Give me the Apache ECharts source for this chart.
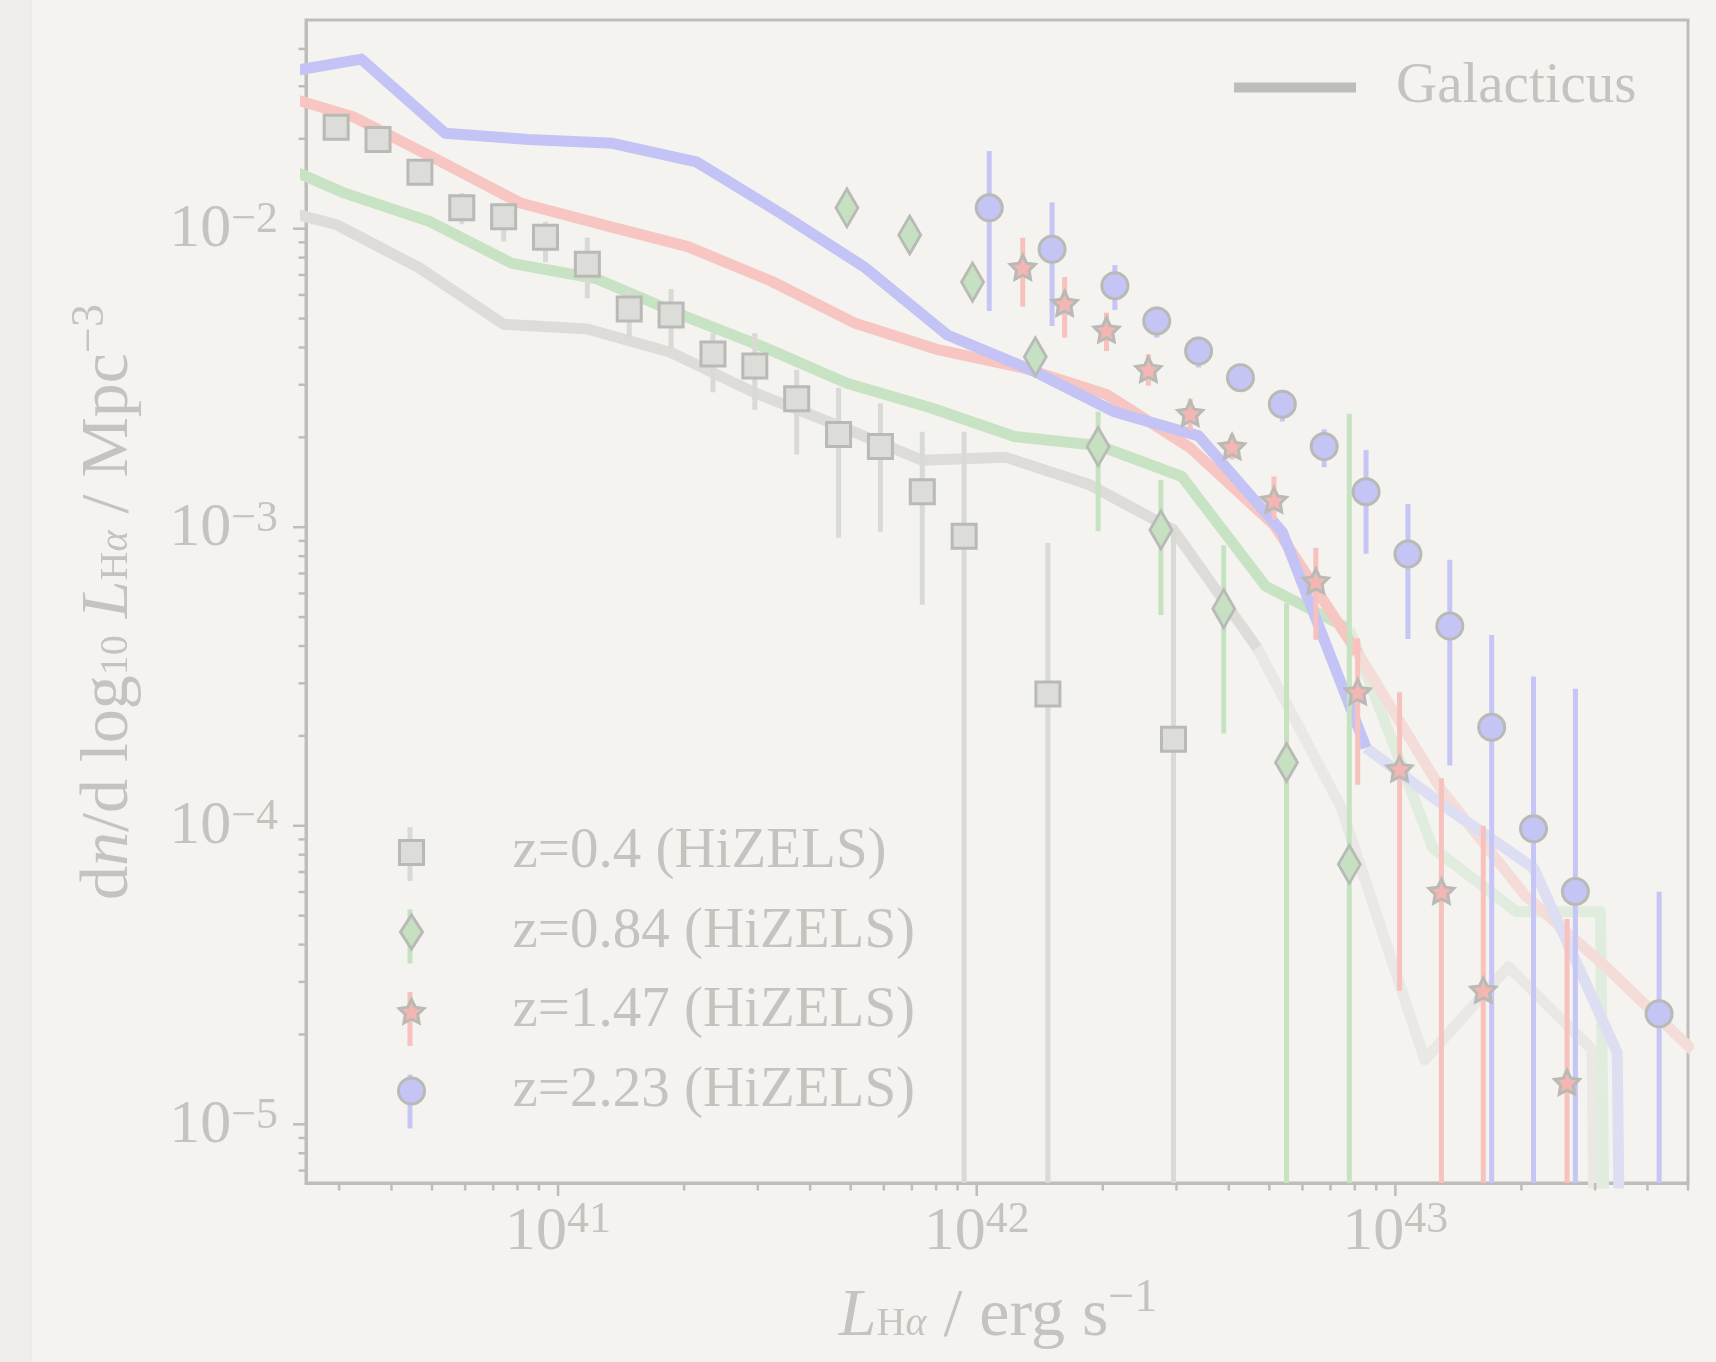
<!DOCTYPE html>
<html>
<head>
<meta charset="utf-8">
<script src="https://cdn.jsdelivr.net/npm/echarts@6/dist/echarts.min.js"></script>
<style>
html,body{margin:0;padding:0;background:#f4f3ef;}
#chart{width:1716px;height:1362px;}
</style>
</head>
<body>
<div id="chart"></div>
<script>
// ---------------- DATA (log10 values) ----------------
// null in a lower-error array = error bar reaching zero density
// null in a model array = model density of zero (line drops off the axis)

// HiZELS z=0.4 (grey squares)
const z04_logL   = [40.47,40.57,40.67,40.77,40.87,40.97,41.07,41.17,41.27,41.37,41.47,41.57,41.67,41.77,41.87,41.97,42.17,42.47];
const z04_logPhi = [-1.660,-1.701,-1.811,-1.930,-1.960,-2.029,-2.119,-2.269,-2.289,-2.420,-2.460,-2.570,-2.689,-2.730,-2.881,-3.030,-3.559,-3.710];
const z04_hi     = [-1.645,-1.685,-1.795,-1.881,-1.944,-1.977,-2.030,-2.205,-2.202,-2.350,-2.350,-2.473,-2.534,-2.585,-2.680,-2.680,-3.053,-3.003];
const z04_lo     = [-1.675,-1.717,-1.827,-1.985,-2.043,-2.112,-2.233,-2.367,-2.404,-2.548,-2.607,-2.756,-3.035,-3.015,-3.260,null,null,null];

// HiZELS z=0.84 (green diamonds)
const z084_logL   = [41.69,41.84,41.99,42.14,42.29,42.44,42.59,42.74,42.89];
const z084_logPhi = [-1.930,-2.021,-2.179,-2.429,-2.730,-3.009,-3.273,-3.788,-4.129];
const z084_hi     = [-1.900,-1.990,-2.150,-2.400,-2.613,-2.842,-3.060,-3.255,-2.620];
const z084_lo     = [-1.960,-2.050,-2.210,-2.460,-3.013,-3.294,-3.691,null,null];

// HiZELS z=1.47 (red stars)
const z147_logL   = [42.11,42.21,42.31,42.41,42.51,42.61,42.71,42.81,42.91,43.01,43.11,43.21,43.41];
const z147_logPhi = [-2.129,-2.250,-2.339,-2.471,-2.618,-2.730,-2.909,-3.180,-3.551,-3.809,-4.219,-4.550,-4.859];
const z147_hi     = [-2.030,-2.162,-2.281,-2.421,-2.570,-2.689,-2.830,-3.069,-3.372,-3.553,-3.841,-4.000,-4.312];
const z147_lo     = [-2.261,-2.365,-2.410,-2.526,-2.674,-2.773,-2.975,-3.377,-3.863,-4.553,null,null,null];

// HiZELS z=2.23 (blue circles)
const z223_logL   = [42.03,42.18,42.33,42.43,42.53,42.63,42.73,42.83,42.93,43.03,43.13,43.23,43.33,43.43,43.63];
const z223_logPhi = [-1.930,-2.069,-2.191,-2.309,-2.410,-2.499,-2.588,-2.730,-2.881,-3.090,-3.331,-3.670,-4.010,-4.220,-4.630];
const z223_hi     = [-1.740,-1.912,-2.122,-2.261,-2.362,-2.470,-2.540,-2.672,-2.741,-2.922,-3.109,-3.361,-3.500,-3.541,-4.221];
const z223_lo     = [-2.276,-2.326,-2.272,-2.365,-2.465,-2.530,-2.646,-2.799,-3.089,-3.374,-3.798,null,null,null,null];

// Galacticus model curves (last index of the well-sampled part given separately)
const gal04_logL   = [40.27,40.47,40.67,40.87,41.07,41.27,41.47,41.67,41.87,42.07,42.27,42.47,42.67,42.87,43.07,43.27,43.47,43.67];
const gal04_logPhi = [-1.914,-1.986,-2.132,-2.320,-2.336,-2.415,-2.550,-2.660,-2.776,-2.766,-2.858,-3.009,-3.404,-3.937,-4.784,-4.472,-4.750,null];
const gal04_lastSolid = 12;

const gal084_logL   = [40.29,40.49,40.69,40.89,41.09,41.29,41.49,41.69,41.89,42.09,42.29,42.49,42.69,42.89,43.09,43.29,43.49,43.69];
const gal084_logPhi = [-1.759,-1.881,-1.974,-2.116,-2.167,-2.286,-2.396,-2.518,-2.600,-2.696,-2.726,-2.830,-3.197,-3.341,-4.075,-4.288,-4.288,null];
const gal084_lastSolid = 13;

const gal147_logL   = [40.31,40.51,40.71,40.91,41.11,41.31,41.51,41.71,41.91,42.11,42.31,42.51,42.71,42.91,43.11,43.31,43.51,43.71];
const gal147_logPhi = [-1.541,-1.625,-1.768,-1.914,-1.988,-2.060,-2.176,-2.317,-2.406,-2.466,-2.555,-2.734,-2.992,-3.421,-3.880,-4.233,-4.482,-4.752];
const gal147_lastSolid = 13;

const gal223_logL   = [40.33,40.53,40.73,40.93,41.13,41.33,41.53,41.73,41.93,42.13,42.33,42.53,42.73,42.93,43.13,43.33,43.53,43.73];
const gal223_logPhi = [-1.480,-1.432,-1.680,-1.701,-1.714,-1.776,-1.947,-2.127,-2.356,-2.473,-2.614,-2.694,-3.016,-3.739,-3.947,-4.141,-4.760,null];
const gal223_lastSolid = 13;

// Axis ticks and labels
const xMajorTicks = [1e41, 1e42, 1e43];
const xTickLabels = ['41', '42', '43'];
const xMinorTicks = [3e40,4e40,5e40,6e40,7e40,8e40,9e40,
                     2e41,3e41,4e41,5e41,6e41,7e41,8e41,9e41,
                     2e42,3e42,4e42,5e42,6e42,7e42,8e42,9e42,
                     2e43,3e43,4e43,5e43];
const yMajorTicks = [1e-5, 1e-4, 1e-3, 1e-2];
const yTickLabels = ['\u22125', '\u22124', '\u22123', '\u22122'];
const yMinorTicks = [7e-6,8e-6,9e-6,
                     2e-5,3e-5,4e-5,5e-5,6e-5,7e-5,8e-5,9e-5,
                     2e-4,3e-4,4e-4,5e-4,6e-4,7e-4,8e-4,9e-4,
                     2e-3,3e-3,4e-3,5e-3,6e-3,7e-3,8e-3,9e-3,
                     2e-2,3e-2,4e-2];

const legendNames = ['z=0.4 (HiZELS)', 'z=0.84 (HiZELS)', 'z=1.47 (HiZELS)', 'z=2.23 (HiZELS)'];

// ---------------- STYLE ----------------
const X_MIN = 2.5e40, X_MAX = 5e43, Y_MIN = 6.36e-6, Y_MAX = 0.05;
const ZERO = 1e-30;
const SERIF = 'Liberation Serif';
const AXIS = '#bebdba';
const TEXT = '#c4c3bf';
const EDGE = '#b9b9b6';

function pw(v) { return v === null ? ZERO : Math.pow(10, v); }
function pts(lx, ly) { return lx.map((v, i) => [pw(v), pw(ly[i])]); }

function starPath(cx, cy, R, r) {
  let d = '';
  for (let k = 0; k < 10; k++) {
    const a = -Math.PI / 2 + k * Math.PI / 5;
    const rr = k % 2 === 0 ? R : r;
    d += (k === 0 ? 'M' : 'L') + (cx + rr * Math.cos(a)).toFixed(2) + ' ' + (cy + rr * Math.sin(a)).toFixed(2);
  }
  return d + 'Z';
}
const STAR = 'path://' + starPath(0, 0, 1, 0.5);

function lineSer(lx, ly, from, to, color, z) {
  const p = pts(lx, ly).slice(from, to + 1);
  return {
    type: 'line', name: 'Galacticus', data: p, symbol: 'none', showSymbol: false,
    clip: true, silent: true, z: z,
    lineStyle: { color: color, width: 11, cap: 'butt', join: 'round' },
    itemStyle: { color: color }, emphasis: { disabled: true }
  };
}

function errSer(id, lx, hi, lo, color) {
  const data = lx.map((v, i) => [pw(v), pw(lo[i]), pw(hi[i])]);
  return {
    type: 'custom', name: id, data: data, clip: true, silent: true, z: 3,
    encode: { x: 0, y: [1, 2] },
    renderItem: function (params, api) {
      const cs = params.coordSys;
      const a = api.coord([api.value(0), api.value(1)]);
      const b = api.coord([api.value(0), api.value(2)]);
      const yb = Math.min(a[1], cs.y + cs.height);
      return { type: 'line', shape: { x1: a[0], y1: yb, x2: b[0], y2: b[1] },
               style: { stroke: color, lineWidth: 5 } };
    }
  };
}

function scatSer(name, lx, ly, symbol, size, fill) {
  return {
    type: 'scatter', name: name, data: pts(lx, ly), symbol: symbol, symbolSize: size,
    z: 4, silent: true,
    itemStyle: { color: fill, borderColor: EDGE, borderWidth: 3, opacity: 1 },
    emphasis: { disabled: true }
  };
}

const yRich = {
  b: { fontSize: 62, lineHeight: 62, fontFamily: SERIF, fill: TEXT, verticalAlign: 'middle' },
  s: { fontSize: 44, lineHeight: 44, fontFamily: SERIF, fill: TEXT, verticalAlign: 'top' }
};
const xRich = {
  b: { fontSize: 62, lineHeight: 64, padding: [6, 0, 0, 0], fontFamily: SERIF, fill: TEXT, verticalAlign: 'middle' },
  s: { fontSize: 44, lineHeight: 44, fontFamily: SERIF, fill: TEXT, verticalAlign: 'top' }
};

const yTicks = yMajorTicks.map((v, i) => ({ v: v, major: true, label: yTickLabels[i] }))
  .concat(yMinorTicks.map(v => ({ v: v, major: false })));
const xTicks = xMajorTicks.map((v, i) => ({ v: v, major: true, label: xTickLabels[i] }))
  .concat(xMinorTicks.map(v => ({ v: v, major: false })));

const yTickSer = {
  type: 'custom', name: 'yticks', silent: true, clip: false, z: 6,
  data: yTicks.map(t => [X_MIN, t.v]),
  renderItem: function (params, api) {
    const t = yTicks[params.dataIndex];
    const p = api.coord([api.value(0), api.value(1)]);
    const len = t.major ? 13 : 7.5;
    const ch = [{ type: 'line', shape: { x1: p[0] - len, y1: p[1], x2: p[0], y2: p[1] },
                  style: { stroke: AXIS, lineWidth: 2.5 } }];
    if (t.major) {
      ch.push({ type: 'text', style: { text: '{b|10}{s|' + t.label + '}', x: p[0] - 28, y: p[1] + 1,
        align: 'right', verticalAlign: 'middle', rich: yRich, fill: TEXT } });
    }
    return { type: 'group', children: ch };
  }
};
const xTickSer = {
  type: 'custom', name: 'xticks', silent: true, clip: false, z: 6,
  data: xTicks.map(t => [t.v, Y_MIN]),
  renderItem: function (params, api) {
    const t = xTicks[params.dataIndex];
    const p = api.coord([api.value(0), api.value(1)]);
    const len = t.major ? 13 : 7.5;
    const ch = [{ type: 'line', shape: { x1: p[0], y1: p[1], x2: p[0], y2: p[1] + len },
                  style: { stroke: AXIS, lineWidth: 2.5 } }];
    if (t.major) {
      ch.push({ type: 'text', style: { text: '{b|10}{s|' + t.label + '}', x: p[0], y: p[1] + 15,
        align: 'center', verticalAlign: 'top', rich: xRich, fill: TEXT } });
    }
    return { type: 'group', children: ch };
  }
};

const titleRich = {
  n:  { fontSize: 68, lineHeight: 68, padding: [14, 0, 0, 0], fontFamily: SERIF, fill: TEXT, verticalAlign: 'middle' },
  i:  { fontSize: 68, lineHeight: 68, padding: [14, 0, 0, 0], fontFamily: SERIF, fontStyle: 'italic', fill: TEXT, verticalAlign: 'middle' },
  sb: { fontSize: 40, lineHeight: 40, fontFamily: SERIF, fill: TEXT, verticalAlign: 'bottom' },
  si: { fontSize: 40, lineHeight: 40, fontFamily: SERIF, fontStyle: 'italic', fill: TEXT, verticalAlign: 'bottom' },
  sp: { fontSize: 46, lineHeight: 46, fontFamily: SERIF, fill: TEXT, verticalAlign: 'top' }
};

const ICON_SQ = 'path://M0 0M40 40M8 8H32V32H8Z';
const ICON_DI = 'path://M0 0M40 40M20 3L31 20L20 37L9 20Z';
const ICON_ST = 'path://M0 0M40 40' + starPath(20, 21, 13, 6.5);
const ICON_CI = 'path://M0 0M40 40M7 20A13 13 0 1 1 33 20A13 13 0 1 1 7 20Z';

const legendBarColors = ['#d9d9d6', '#c5e3c1', '#f7c2be', '#c6c6f6'];
const legendCenters = [854, 936.5, 1019, 1101.5];

const option = {
  animation: false,
  backgroundColor: '#f4f3ef',
  textStyle: { fontFamily: SERIF },
  grid: { left: 306, right: 28, top: 20, bottom: 179, show: true, borderColor: AXIS, borderWidth: 3,
          backgroundColor: 'transparent', containLabel: false, outerBoundsMode: 'none' },
  xAxis: {
    type: 'log', logBase: 10, min: X_MIN, max: X_MAX,
    axisLine: { show: true, lineStyle: { color: AXIS, width: 3 } },
    axisTick: { show: false }, axisLabel: { show: false }, splitLine: { show: false }, minorTick: { show: false }
  },
  yAxis: {
    type: 'log', logBase: 10, min: Y_MIN, max: Y_MAX,
    axisLine: { show: true, lineStyle: { color: AXIS, width: 3 } },
    axisTick: { show: false }, axisLabel: { show: false }, splitLine: { show: false }, minorTick: { show: false }
  },
  legend: [
    {
      data: [{ name: 'Galacticus', icon: 'rect', itemStyle: { color: '#bdbdba', borderWidth: 0 } }],
      left: 1234, top: 59, padding: 0, itemWidth: 122, itemHeight: 10, selectedMode: false,
      formatter: n => '{g|}{t|' + n + '}',
      textStyle: { rich: { g: { width: 35 }, t: { fontSize: 57, lineHeight: 60, color: TEXT, fontFamily: SERIF } } }
    },
    {
      orient: 'vertical', left: 390, top: 824, padding: 0, itemWidth: 40, itemHeight: 40, itemGap: 22.5,
      selectedMode: false,
      data: [
        { name: legendNames[0], icon: ICON_SQ, itemStyle: { color: '#dcdcd9', borderColor: EDGE, borderWidth: 3 } },
        { name: legendNames[1], icon: ICON_DI, itemStyle: { color: '#c6e1c2', borderColor: EDGE, borderWidth: 3 } },
        { name: legendNames[2], icon: ICON_ST, itemStyle: { color: '#f3b6b2', borderColor: EDGE, borderWidth: 3 } },
        { name: legendNames[3], icon: ICON_CI, itemStyle: { color: '#c4c4f5', borderColor: EDGE, borderWidth: 3 } }
      ],
      formatter: n => '{g|}{t|' + n + '}',
      textStyle: { rich: { g: { width: 76 }, t: { fontSize: 57, lineHeight: 60, color: TEXT, fontFamily: SERIF } } }
    }
  ],
  graphic: [
    { type: 'rect', left: 0, top: 0, z: -10, silent: true, shape: { width: 31, height: 1362 }, style: { fill: '#efeeea' } },
    { type: 'line', z: -9, silent: true, shape: { x1: 31, y1: 0, x2: 31, y2: 1362 }, style: { stroke: '#eae9e5', lineWidth: 1.5 } }
  ].concat(legendCenters.map((c, i) => ({
    type: 'line', z: 0, silent: true, shape: { x1: 410, y1: c - 27, x2: 410, y2: c + 27 },
    style: { stroke: legendBarColors[i], lineWidth: 5 }
  }))).concat([
    { type: 'text', x: 998, y: 1276, silent: true, z: 5,
      style: { text: '{i|L}{sb|H}{si|\u03b1}{n| / erg s}{sp|\u22121}', align: 'center', verticalAlign: 'top',
               rich: titleRich, fill: TEXT } },
    { type: 'text', x: 102, y: 602, rotation: Math.PI / 2, silent: true, z: 5,
      style: { text: '{n|d}{i|n}{n|/d log}{sb|10}{n| }{i|L}{sb|H}{si|\u03b1}{n| / Mpc}{sp|\u22123}',
               align: 'center', verticalAlign: 'middle', rich: titleRich, fill: TEXT } }
  ]),
  series: [
    // faint (poorly sampled) model tails
    lineSer(gal04_logL, gal04_logPhi, gal04_lastSolid, gal04_logL.length - 1, '#e9e8e5', 1),
    lineSer(gal084_logL, gal084_logPhi, gal084_lastSolid, gal084_logL.length - 1, '#e0ecdd', 1),
    lineSer(gal147_logL, gal147_logPhi, gal147_lastSolid, gal147_logL.length - 1, '#f4dcd8', 1),
    lineSer(gal223_logL, gal223_logPhi, gal223_lastSolid, gal223_logL.length - 1, '#dedef3', 1),
    // model curves
    lineSer(gal04_logL, gal04_logPhi, 0, gal04_lastSolid, '#dddcd9', 2),
    lineSer(gal084_logL, gal084_logPhi, 0, gal084_lastSolid, '#c8e3c4', 2),
    lineSer(gal147_logL, gal147_logPhi, 0, gal147_lastSolid, '#f7c6c2', 2),
    lineSer(gal223_logL, gal223_logPhi, 0, gal223_lastSolid, '#c3c3f5', 2),
    // error bars
    errSer('err04', z04_logL, z04_hi, z04_lo, '#d9d9d6'),
    errSer('err084', z084_logL, z084_hi, z084_lo, '#c5e3c1'),
    errSer('err147', z147_logL, z147_hi, z147_lo, '#f7c2be'),
    errSer('err223', z223_logL, z223_hi, z223_lo, '#c6c6f6'),
    // data points
    scatSer(legendNames[0], z04_logL, z04_logPhi, 'rect', 24, '#dcdcd9'),
    scatSer(legendNames[1], z084_logL, z084_logPhi, 'diamond', [22, 38], '#c6e1c2'),
    scatSer(legendNames[2], z147_logL, z147_logPhi, STAR, [25, 24], '#f3b6b2'),
    scatSer(legendNames[3], z223_logL, z223_logPhi, 'circle', 26, '#c4c4f5'),
    // axis ticks & labels
    yTickSer, xTickSer
  ]
};

const chart = echarts.init(document.getElementById('chart'), null, { renderer: 'canvas' });
chart.setOption(option);
</script>
</body>
</html>
